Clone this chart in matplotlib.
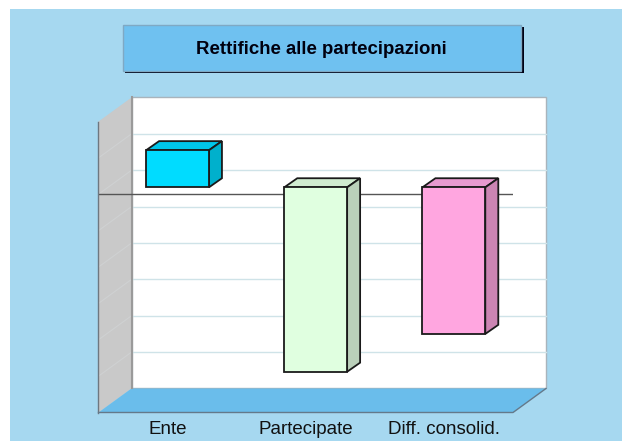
import matplotlib

matplotlib.use("Agg")
import matplotlib.pyplot as plt
from matplotlib.patches import Polygon, Rectangle

plt.rcParams["font.family"] = ["Liberation Sans", "DejaVu Sans"]

title = "Rettifiche alle partecipazioni"
categories = ["Ente", "Partecipate", "Diff. consolid."]
values = [1.02, -5.07, -4.03]
front_colors = ["#00DCFF", "#E0FFE0", "#FFA6E0"]
top_colors = ["#00C6EA", "#D0ECD0", "#E89AD0"]
side_colors = ["#00B0CC", "#BAD0BA", "#CC85B3"]
grid_values = [-5, -4, -3, -2, -1, 0, 1]

W, H = 622, 441
BG = "#A6D8F0"
BOX = "#6FC1F0"

# depth of the fake 3d, in data units
WALL_DX, WALL_DY = 0.239, 0.66
BAR_SHIFT_X, BAR_SHIFT_Y = 0.072, 0.19
BAR_DX, BAR_DY = 0.094, 0.25
BAR_WIDTH = 0.455
YMIN, YMAX = -6, 2
XMIN, XMAX = -0.5, 2.5


def px_rect(x0, y0, x1, y1):
    # pixel box (top-left origin) to figure fractions
    return [x0 / W, 1 - y1 / H, (x1 - x0) / W, (y1 - y0) / H]


fig = plt.figure(figsize=(W / 100, H / 100), dpi=100, facecolor="white")

# slide background and title box, zorder below the axes
fig.patches.append(Rectangle((10 / W, 0), 1, 1 - 9 / H, transform=fig.transFigure, fc=BG, ec="none", zorder=-3))
fig.patches.append(
    Rectangle((125 / W, 1 - 73 / H), 398.5 / W, 46 / H, transform=fig.transFigure, fc="#000014", ec="none", zorder=-2)
)
fig.patches.append(
    Rectangle(
        (122.5 / W, 1 - 70.5 / H), 398 / W, 46 / H, transform=fig.transFigure, fc=BOX, ec="#7FA9C4", lw=1, zorder=-1
    )
)
fig.text(321 / W, 1 - 49.5 / H, title, ha="center", va="center", fontsize=13.4, fontweight="bold", color="#00000F")

ax = fig.add_axes(px_rect(98.5, 121.5, 513, 412.5))
ax.patch.set_visible(False)
ax.set_xlim(XMIN, XMAX)
ax.set_ylim(YMIN, YMAX)
for spine in ax.spines.values():
    spine.set_visible(False)
ax.set_yticks([])
ax.set_xticks(range(len(categories)), categories, fontsize=13.5, color="#111111")
ax.tick_params(axis="x", length=0, pad=6)

# back wall, side wall, floor
ax.add_patch(
    Rectangle(
        (XMIN + WALL_DX, YMIN + WALL_DY),
        XMAX - XMIN,
        YMAX - YMIN,
        fc="white",
        ec="#A9B4BC",
        lw=1,
        clip_on=False,
        zorder=1,
    )
)
ax.add_patch(
    Polygon(
        [
            (XMIN, YMIN),
            (XMIN + WALL_DX, YMIN + WALL_DY),
            (XMIN + WALL_DX, YMAX + WALL_DY),
            (XMIN, YMAX),
        ],
        fc="#C9C9C9",
        ec="none",
        clip_on=False,
        zorder=1.2,
    )
)
ax.plot([XMIN, XMIN], [YMIN, YMAX], color="#6E7780", lw=1, clip_on=False, zorder=1.3)
ax.plot(
    [XMIN + WALL_DX, XMIN + WALL_DX], [YMIN + WALL_DY, YMAX + WALL_DY], color="#9A9A9A", lw=1.5, clip_on=False, zorder=1.3
)
ax.add_patch(
    Polygon(
        [
            (XMIN, YMIN),
            (XMAX, YMIN),
            (XMAX + WALL_DX, YMIN + WALL_DY),
            (XMIN + WALL_DX, YMIN + WALL_DY),
        ],
        fc="#6ABDEB",
        ec="none",
        clip_on=False,
        zorder=1.2,
    )
)
ax.plot([XMIN, XMAX, XMAX + WALL_DX], [YMIN, YMIN, YMIN + WALL_DY], color="#64798A", lw=1, clip_on=False, zorder=1.3)

# gridlines, on the wall and (very faint) across the side wall
for g in grid_values:
    ax.plot(
        [XMIN + WALL_DX, XMAX + WALL_DX], [g + WALL_DY, g + WALL_DY], color="#CFE3E8", lw=1, clip_on=False, zorder=1.1
    )
    ax.plot([XMIN, XMIN + WALL_DX], [g, g + WALL_DY], color="#CFD1D2", lw=0.8, clip_on=False, zorder=1.25)

# zero line in front of the wall, behind the bars
ax.axhline(0, color="#555555", lw=1, zorder=2)

# bars
xs = [i + BAR_SHIFT_X for i in range(len(categories))]
bars = ax.bar(
    xs,
    values,
    width=BAR_WIDTH,
    bottom=BAR_SHIFT_Y,
    color=front_colors,
    edgecolor="#1A1A1A",
    linewidth=1.3,
    clip_on=False,
    zorder=5,
)

for bar, top_c, side_c in zip(bars, top_colors, side_colors):
    x0, x1 = bar.get_x(), bar.get_x() + bar.get_width()
    y0 = min(bar.get_y(), bar.get_y() + bar.get_height())
    y1 = max(bar.get_y(), bar.get_y() + bar.get_height())
    ax.add_patch(
        Polygon(
            [(x0, y1), (x0 + BAR_DX, y1 + BAR_DY), (x1 + BAR_DX, y1 + BAR_DY), (x1, y1)],
            fc=top_c,
            ec="#1A1A1A",
            lw=1.3,
            clip_on=False,
            zorder=4,
        )
    )
    ax.add_patch(
        Polygon(
            [(x1, y0), (x1 + BAR_DX, y0 + BAR_DY), (x1 + BAR_DX, y1 + BAR_DY), (x1, y1)],
            fc=side_c,
            ec="#1A1A1A",
            lw=1.3,
            clip_on=False,
            zorder=4,
        )
    )

fig.savefig("out.png", dpi=100, facecolor=fig.get_facecolor())
